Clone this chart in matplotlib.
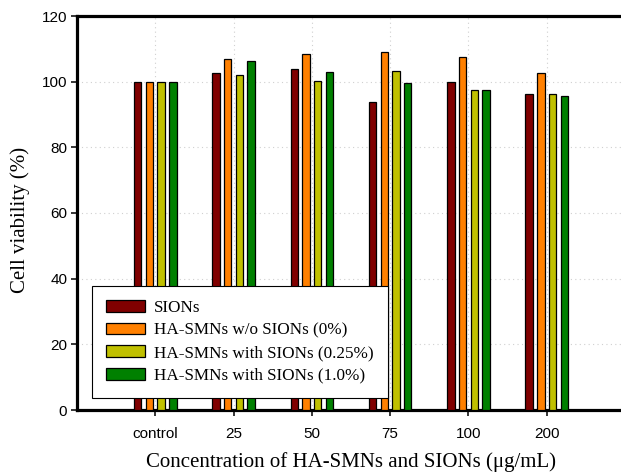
import matplotlib
matplotlib.use("Agg")
import matplotlib.pyplot as plt
import numpy as np

# data
categories = ["control", "25", "50", "75", "100", "200"]
series_names = [
    "SIONs",
    "HA-SMNs w/o SIONs (0%)",
    "HA-SMNs with SIONs (0.25%)",
    "HA-SMNs with SIONs (1.0%)",
]
sions = [100.0, 102.6, 103.8, 93.8, 100.0, 96.2]
ha_0 = [100.0, 107.0, 108.4, 108.9, 107.4, 102.6]
ha_025 = [100.0, 102.0, 100.2, 103.3, 97.4, 96.2]
ha_10 = [100.0, 106.3, 103.0, 99.5, 97.4, 95.7]
colors = ["#800000", "#FF8000", "#C0C000", "#008000"]

fig = plt.figure(figsize=(6.21, 4.75), dpi=100)
ax = fig.add_axes([77 / 621, 1 - 410 / 475, 548 / 621, 394 / 475])

x = np.arange(1, len(categories) + 1)
step = 0.15
width = 0.095
for i, (vals, name, c) in enumerate(zip([sions, ha_0, ha_025, ha_10], series_names, colors)):
    ax.bar(x + (i - 1.5) * step, vals, width, color=c, edgecolor="black",
           linewidth=0.9, label=name, zorder=3)

ax.set_xlim(0, 7)
ax.set_ylim(0, 120)
ax.set_xticks(x)
ax.set_xticklabels(categories, family="Liberation Sans", fontsize=11)
ax.set_yticks(np.arange(0, 121, 20))
ax.set_yticklabels([str(v) for v in range(0, 121, 20)], family="Liberation Sans", fontsize=11)
ax.tick_params(direction="out", length=4, width=1.1)
ax.tick_params(axis="x", pad=8)
ax.tick_params(axis="y", pad=3)

ax.grid(True, linestyle=(0, (1, 3)), color="#D0D0D0", linewidth=0.8, zorder=0)
ax.set_axisbelow(True)

for s in ["left", "bottom", "top"]:
    ax.spines[s].set_linewidth(2.3)
ax.spines["right"].set_visible(False)

ax.set_xlabel("Concentration of HA-SMNs and SIONs (\u03bcg/mL)", family="Liberation Serif",
              fontsize=15, labelpad=8)
ax.set_ylabel("Cell viability (%)", family="Liberation Serif", fontsize=15)
ax.yaxis.set_label_coords(-0.086, 0.482)

# legend box: SigmaPlot style, extra room on the right
leg = ax.legend(loc="lower left", bbox_to_anchor=(92 / 621, 1 - 398 / 475, 296 / 621, 0),
                bbox_transform=fig.transFigure, mode="expand", borderaxespad=0,
                fancybox=False, prop={"family": "Liberation Serif", "size": 12.3},
                handlelength=2.3, handleheight=0.65, handletextpad=0.5,
                labelspacing=0.39, borderpad=0.83, framealpha=1)
leg.get_frame().set_edgecolor("black")
leg.get_frame().set_linewidth(0.8)
leg.set_zorder(5)

fig.savefig("out.png", dpi=100)
